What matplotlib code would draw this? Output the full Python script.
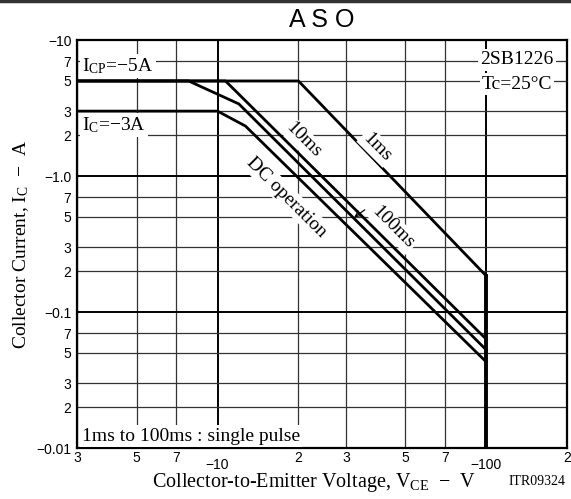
import matplotlib
matplotlib.use("Agg")
import matplotlib.pyplot as plt
from matplotlib.lines import Line2D

plt.rcParams['mathtext.fontset'] = 'custom'
plt.rcParams['mathtext.rm'] = 'Liberation Serif'
plt.rcParams['mathtext.it'] = 'Liberation Serif:italic'

# SOA curves (VCE in V, IC in A, magnitudes)
v_1ms = [3, 20, 100]
i_1ms = [5, 5, 0.184]
v_10ms = [3, 10.7, 100]
i_10ms = [5, 5, 0.063]
v_100ms = [3, 7.8, 12, 100]
i_100ms = [5, 5, 3.39, 0.0526]
v_dc = [3, 10, 12.7, 100]
i_dc = [3, 3, 2.33, 0.0429]
v_max = [100, 100]
i_max = [0.184, 0.01]

x_major = [10, 100]
x_major_lbl = ['\u221210', '\u2212100']
x_minor = [3, 5, 7, 20, 30, 50, 70, 200]
x_minor_lbl = ['3', '5', '7', '2', '3', '5', '7', '2']
y_major = [0.01, 0.1, 1, 10]
y_major_lbl = ['\u22120.01', '\u22120.1', '\u22121.0', '\u221210']
y_minor = [0.02, 0.03, 0.05, 0.07, 0.2, 0.3, 0.5, 0.7, 2, 3, 5, 7]
y_minor_lbl = ['2', '3', '5', '7'] * 3

serif = 'Liberation Serif'
sans = 'Liberation Sans'

fig = plt.figure(figsize=(5.71, 4.99), dpi=100)
ax = fig.add_axes([0.1349, 0.1022, 0.8585, 0.8176])
ax.set_xscale('log')
ax.set_yscale('log')
ax.set_xlim(3, 200)
ax.set_ylim(0.01, 10)

ax.set_xticks(x_major)
ax.set_xticklabels(x_major_lbl)
ax.set_xticks(x_minor, minor=True)
ax.set_xticklabels(x_minor_lbl, minor=True)
ax.set_yticks(y_major)
ax.set_yticklabels(y_major_lbl)
ax.set_yticks(y_minor, minor=True)
ax.set_yticklabels(y_minor_lbl, minor=True)
ax.tick_params(which='both', length=0, labelsize=10)
ax.tick_params(axis='x', which='major', pad=7)
ax.tick_params(axis='x', which='minor', pad=2)
ax.tick_params(axis='y', which='both', pad=4)
for lbl in ax.get_xticklabels(which='both') + ax.get_yticklabels(which='both'):
    lbl.set_fontfamily(sans)

ax.grid(which='major', color='black', lw=1.4)
ax.grid(which='minor', color='#333333', lw=0.9)
ax.set_axisbelow(True)
for s in ax.spines.values():
    s.set_linewidth(1.6)

lw = 2.0
ax.plot(v_1ms, i_1ms, color='black', lw=lw)
ax.plot(v_10ms, i_10ms, color='black', lw=lw)
ax.plot(v_100ms, i_100ms, color='black', lw=lw)
ax.plot(v_dc, i_dc, color='black', lw=lw)
ax.plot(v_max, i_max, color='black', lw=2.8)

wb = dict(facecolor='white', edgecolor='none', pad=1.5)
ax.text(3.13, 6.44, 'I$_\\mathrm{CP}$=\u22125A', family=serif, fontsize=14,
        va='center', ha='left', bbox=wb)
ax.text(3.13, 2.37, 'I$_\\mathrm{C}$=\u22123A', family=serif, fontsize=14,
        va='center', ha='left', bbox=wb)
ax.text(178, 7.13, '2SB1226', family=serif, fontsize=14, va='center', ha='right', bbox=wb)
ax.text(176, 4.74, 'Tc=25\u00b0C', family=serif, fontsize=14, va='center', ha='right', bbox=wb)
ax.text(20.8, 1.84, '10ms', family=serif, fontsize=14, rotation=-45,
        va='center', ha='center', bbox=wb, rotation_mode='anchor')
ax.text(39.2, 1.63, '1ms', family=serif, fontsize=14, rotation=-45,
        va='center', ha='center', bbox=wb, rotation_mode='anchor')
ax.text(45, 0.42, '100ms', family=serif, fontsize=14, rotation=-45,
        va='center', ha='center', bbox=wb, rotation_mode='anchor')
ax.text(18.1, 0.70, 'DC operation', family=serif, fontsize=14, rotation=-45,
        va='center', ha='center', bbox=wb, rotation_mode='anchor')
ax.annotate('', xy=(31.6, 0.483), xytext=(36, 0.58),
            arrowprops=dict(arrowstyle='->', color='black', lw=0.9))
ax.text(3.13, 0.01225, '1ms to 100ms : single pulse', family=serif, fontsize=14,
        va='center', ha='left', bbox=wb)

ax.set_ylabel('Collector Current, I$_\\mathrm{C}$  \u2212  A', family=serif, fontsize=14, labelpad=4)
fig.text(0.55, 0.034, 'Collector-to-Emitter Voltage, V$_\\mathrm{CE}$  \u2212  V',
         family=serif, fontsize=14.5, ha='center', va='center')
fig.text(0.99, 0.036, 'ITR09324', family=serif, fontsize=10, ha='right', va='center')

fig.text(0.564, 0.96, 'A S O', family=sans, fontsize=18, ha='center', va='center')
fig.add_artist(Line2D([0, 1], [0.997, 0.997], color='#333333', lw=2.5,
                      transform=fig.transFigure))

fig.savefig('out.png', dpi=100)
